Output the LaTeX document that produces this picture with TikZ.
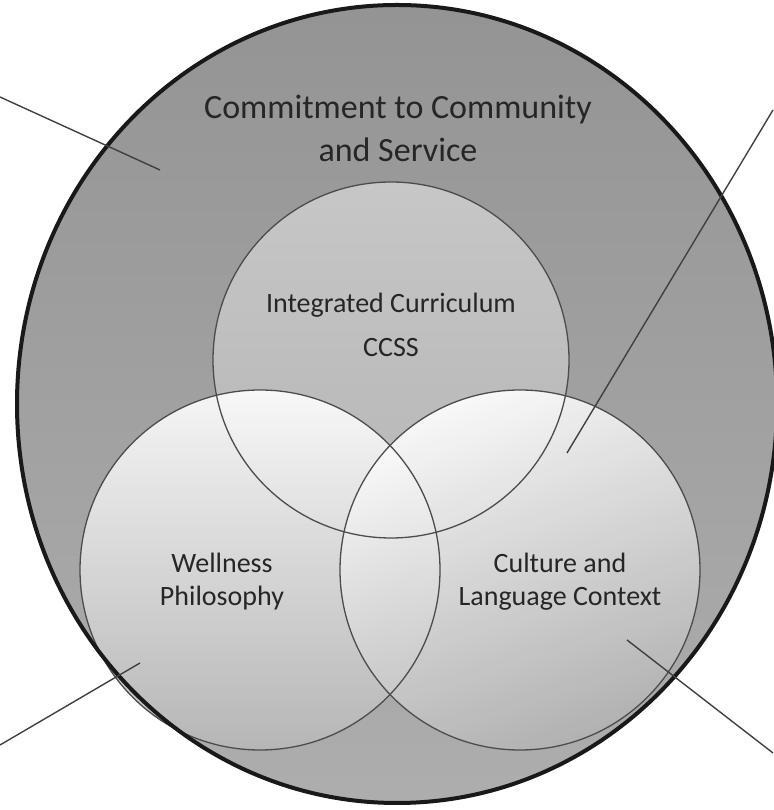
\documentclass[tikz,border=0pt]{standalone}
\usepackage{fontspec}
\setmainfont{Carlito}
\begin{document}
\begin{tikzpicture}[x=1pt,y=1pt,
    ring/.style={draw=black!70, line width=1.3pt},
    venntext/.style={align=center, text=black!85, font=\fontsize{28}{33}\selectfont},
    leader/.style={draw=black!75, line width=1.4pt}]
    \useasboundingbox (0,0) rectangle (773,810);

    % Centres of the circles
    \coordinate (outer) at (397,406);
    \coordinate (curric) at (391,450);
    \coordinate (wellness) at (260,240);
    \coordinate (culture) at (520,240);

    % Outer circle fill
    \shade[top color=black!42, bottom color=black!32] (outer) ellipse [x radius=380, y radius=399];

    % Inner circle fills
    \shade[top color=black!20, bottom color=black!28, fill opacity=0.9] (curric) circle [radius=178];
    \shade[top color=white, bottom color=black!28, fill opacity=0.9] (wellness) circle [radius=180];
    \shade[top color=white, bottom color=black!30, shading angle=20, fill opacity=0.9] (culture) circle [radius=180];

    % Outlines
    \draw[ring] (curric) circle [radius=178];
    \draw[ring] (wellness) circle [radius=180];
    \draw[ring] (culture) circle [radius=180];
    \draw[line width=4pt, black!90] (outer) ellipse [x radius=380, y radius=399];

    % Labels
    \node[venntext, font=\fontsize{34}{43}\selectfont] (service) at (398,682) {Commitment to Community\\and Service};
    \node[venntext, font=\fontsize{28}{44}\selectfont] (ccss) at (391,485) {Integrated Curriculum\\CCSS};
    \node[venntext] (wellnesstext) at (222,228) {Wellness\\Philosophy};
    \node[venntext] (culturetext) at (560,228) {Culture and\\Language Context};

    % Leader lines
    \coordinate (note-tl) at (0,713);   \coordinate (tip-tl) at (160,640);
    \coordinate (note-tr) at (773,700); \coordinate (tip-tr) at (567,357);
    \coordinate (note-bl) at (0,65);    \coordinate (tip-bl) at (140,147);
    \coordinate (note-br) at (773,57);  \coordinate (tip-br) at (627,170);
    \draw[leader] (note-tl) -- (tip-tl);
    \draw[leader] (note-tr) -- (tip-tr);
    \draw[leader] (note-bl) -- (tip-bl);
    \draw[leader] (note-br) -- (tip-br);
\end{tikzpicture}
\end{document}
